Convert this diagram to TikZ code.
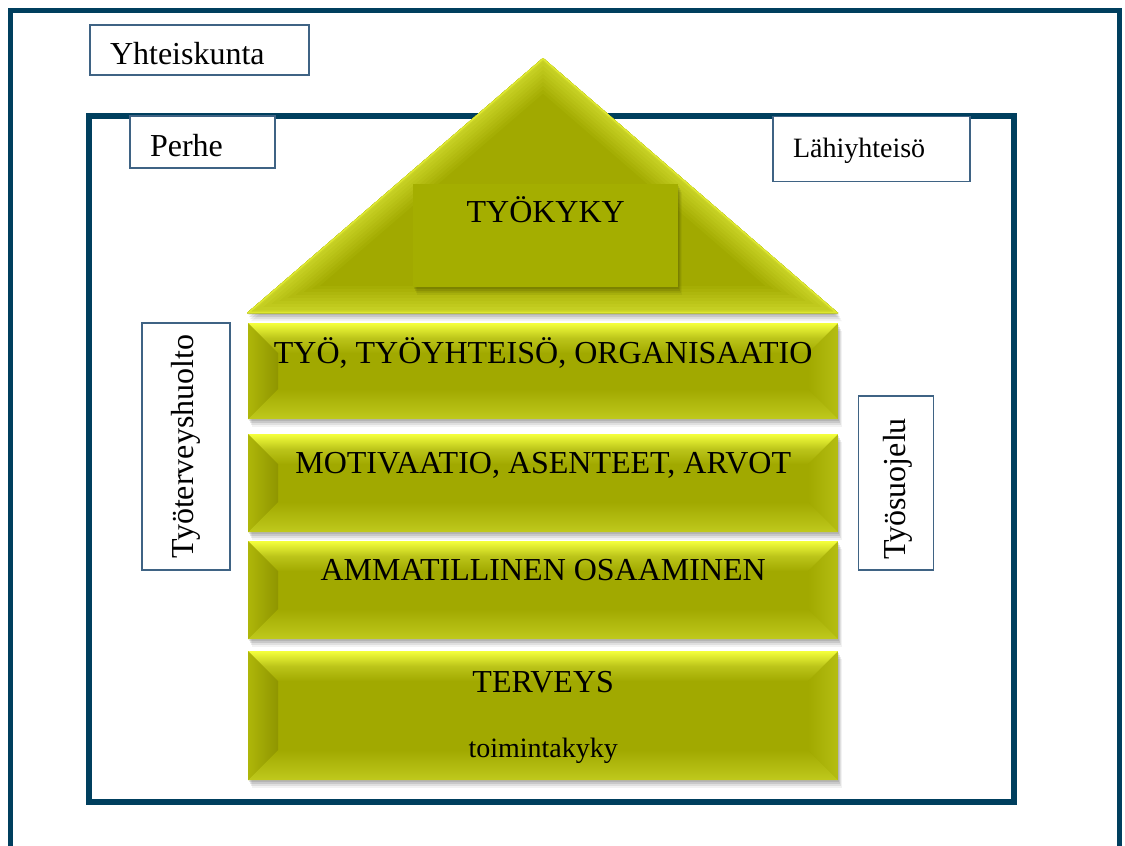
\documentclass[tikz,border=0pt]{standalone}
\usepackage{fontspec}
\setmainfont{Liberation Serif}
\usetikzlibrary{calc,shadows}
\definecolor{framenavy}{HTML}{003F5E}
\definecolor{boxline}{HTML}{3F6384}
\definecolor{barolive}{HTML}{A1A900}
\definecolor{baryellow}{HTML}{F4FF3C}
\definecolor{barlight}{HTML}{CDD72A}
\definecolor{bardark}{HTML}{8F9500}
\definecolor{roofolive}{HTML}{A4AE00}
% bevelled edges of a layer
\newcommand\barbevel{%
  \coordinate (bnw) at (path picture bounding box.north west);
  \coordinate (bne) at (path picture bounding box.north east);
  \coordinate (bsw) at (path picture bounding box.south west);
  \coordinate (bse) at (path picture bounding box.south east);
  \shade[top color=baryellow, bottom color=barolive, middle color=barlight!60!barolive]
    (bnw) -- (bne) -- ($(bne)+(-30pt,-30pt)$) -- ($(bnw)+(30pt,-30pt)$) -- cycle;
  \shade[left color=barolive!85!baryellow, right color=bardark]
    (bnw) -- ($(bnw)+(30pt,-30pt)$) -- ($(bsw)+(30pt,30pt)$) -- (bsw) -- cycle;
  \shade[left color=barolive, right color=barlight!45!barolive]
    (bne) -- ($(bne)+(-30pt,-30pt)$) -- ($(bse)+(-30pt,30pt)$) -- (bse) -- cycle;
  \shade[top color=barolive, bottom color=barlight!70!barolive]
    (bsw) -- ($(bsw)+(30pt,30pt)$) -- ($(bse)+(-30pt,30pt)$) -- (bse) -- cycle;
}
\tikzset{
  frame/.style={draw=framenavy, line width=6pt},
  labelbox/.style={draw=boxline, line width=1.2pt, fill=white, inner xsep=20pt, inner ysep=0pt,
    font=\fontsize{32}{38}\selectfont},
  softshadow/.style={
    drop shadow={shadow xshift=1pt, shadow yshift=-2pt, opacity=0.10, fill=#1},
    drop shadow={shadow xshift=2pt, shadow yshift=-4pt, opacity=0.10, fill=#1},
    drop shadow={shadow xshift=3pt, shadow yshift=-6pt, opacity=0.08, fill=#1},
    drop shadow={shadow xshift=4pt, shadow yshift=-8pt, opacity=0.05, fill=#1}},
  softshadow/.default=black,
  layer/.style={rectangle, fill=barolive, minimum width=590pt, inner sep=0pt, anchor=north west,
    softshadow, path picture={\barbevel}},
  layertext/.style={anchor=base, inner sep=0pt, font=\fontsize{32}{38}\selectfont},
}
\begin{document}
\begin{tikzpicture}[x=1pt, y=-1pt]
\useasboundingbox (0,0) rectangle (1125,846);
% frames
\draw[frame, line width=5pt] (10,850) -- (10,10) -- (1119,10) -- (1119,850);
\draw[frame] (89,116) rectangle (1014,802);
% labels
\node[labelbox, text width=179pt, minimum height=50pt, text height=28pt, text depth=0pt] (yhteis) at (199.5,50) {Yhteiskunta};
\node[labelbox, text width=105pt, minimum height=52pt, text height=28pt, text depth=0pt] (perhe) at (202.5,142) {Perhe};
\node[labelbox, text width=157pt, minimum height=65pt, font=\fontsize{28}{34}\selectfont, text height=20pt, text depth=4pt] (lahi) at (871.5,149) {Lähiyhteisö};
\node[labelbox, rotate=90, inner xsep=0pt, minimum width=247pt, minimum height=88pt] (tth) at (186,446.5) {Työterveyshuolto};
\node[labelbox, rotate=90, inner xsep=0pt, minimum width=174pt, minimum height=75pt, text height=30pt] (tsuo) at (896,483) {};
\node[rotate=90, inner sep=0pt, font=\fontsize{32}{38}\selectfont] (tsuotext) at ([xshift=2pt]tsuo.center |- 0,489) {Työsuojelu};
% roof
\coordinate (apex) at (543,58);
\coordinate (eavel) at (247,313);
\coordinate (eaver) at (838,313);
\fill[barolive, softshadow] (apex) -- (eavel) -- (eaver) -- cycle;
\begin{scope}
\clip (apex) -- (eavel) -- (eaver) -- cycle;
\foreach \i in {0,...,9}
  \draw[line width={(10-\i)*6pt}, color=barlight!\i0!barolive] (apex) -- (eavel) -- (eaver) -- cycle;
\draw[line width=3pt, color=baryellow!40!barlight] (apex) -- (eavel) -- (eaver) -- cycle;
\end{scope}
\node[rectangle, fill=roofolive, anchor=north west, minimum width=265pt, minimum height=103pt, inner sep=0pt,
  softshadow=black!80!barolive] (tyokyky) at (413,184) {};
\node[layertext] (tyokykytext) at ([yshift=-38pt]tyokyky.north) {TYÖKYKY};
% layers
\node[layer, minimum height=96pt] (tyo) at (248,323) {};
\node[layer, minimum height=98pt] (motiv) at (248,434) {};
\node[layer, minimum height=98pt] (ammat) at (248,541) {};
\node[layer, minimum height=129pt] (terveys) at (248,651) {};
\node[layertext] (tyotext) at ([yshift=-40pt]tyo.north) {TYÖ, TYÖYHTEISÖ, ORGANISAATIO};
\node[layertext] (motivtext) at ([yshift=-39pt]motiv.north) {MOTIVAATIO, ASENTEET, ARVOT};
\node[layertext] (ammattext) at ([yshift=-39pt]ammat.north) {AMMATILLINEN OSAAMINEN};
\node[layertext] (terveystext) at ([yshift=-41pt]terveys.north) {TERVEYS};
\node[layertext, font=\fontsize{28}{34}\selectfont] (toimtext) at ([yshift=-106pt]terveys.north) {toimintakyky};
\end{tikzpicture}
\end{document}
